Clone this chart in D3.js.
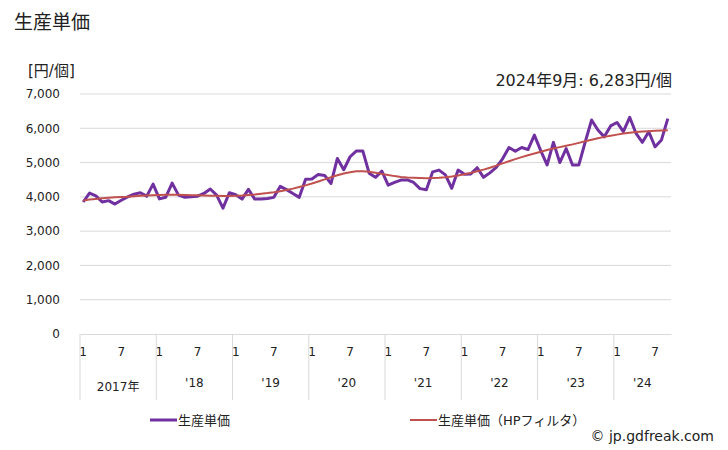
<!DOCTYPE html>
<html>
<head>
<meta charset="utf-8">
<script src="https://cdn.jsdelivr.net/npm/d3@7"></script>
<style>
  body { margin: 0; background: #fff; }
  svg text { font-family: "DejaVu Sans", "Noto Sans CJK JP", sans-serif; fill: #222; }
</style>
</head>
<body>
<div id="chart"></div>
<script>
// years shown on the axis (2017-01 .. 2024-09, monthly)
let years = [2017, 2018, 2019, 2020, 2021, 2022, 2023, 2024];
let yearLabels = ['2017年', "'18", "'19", "'20", "'21", "'22", "'23", "'24"];
let lastMonth = 9;

// 生産単価 (円/個)
let unitPrice = [
    3850, 4110, 4030, 3850, 3890, 3790, 3900, 4000, 4080, 4120, 4020, 4370,
    3940, 3990, 4400, 4050, 3990, 4000, 4020, 4100, 4230, 4050, 3670, 4120,
    4060, 3935, 4220, 3935, 3935, 3955, 3985, 4305, 4210, 4100, 3985, 4510,
    4520, 4655, 4625, 4390, 5120, 4790, 5170, 5340, 5340, 4690, 4570, 4750,
    4340, 4420, 4490, 4495, 4420, 4240, 4210, 4730, 4780, 4640, 4250, 4780,
    4660, 4670, 4850, 4570, 4700, 4860, 5110, 5440, 5330, 5440, 5380, 5800,
    5350, 4930, 5590, 5000, 5410, 4930, 4930, 5600, 6240, 5950, 5750, 6070,
    6170, 5900, 6320, 5850, 5590, 5900, 5460, 5660, 6283
];

// 生産単価 (HPフィルタ)
let hpTrend = [
    3890, 3920, 3940, 3960, 3975, 3985, 3995, 4005, 4020, 4030, 4040, 4050,
    4055, 4060, 4060, 4060, 4055, 4050, 4045, 4040, 4035, 4030, 4025, 4025,
    4030, 4040, 4055, 4070, 4090, 4110, 4135, 4165, 4200, 4240, 4285, 4335,
    4390, 4450, 4510, 4570, 4630, 4680, 4720, 4745, 4750, 4735, 4705, 4670,
    4635, 4605, 4580, 4565, 4555, 4548, 4545, 4550, 4560, 4575, 4595, 4625,
    4660, 4700, 4745, 4795, 4850, 4910, 4975, 5040, 5100, 5160, 5215, 5265,
    5315, 5365, 5410, 5450, 5490, 5530, 5575, 5620, 5665, 5710, 5750, 5785,
    5815, 5845, 5870, 5890, 5905, 5915, 5925, 5935, 5940
];

let yTicks = [0, 1000, 2000, 3000, 4000, 5000, 6000, 7000];

// build month keys
let months = [];
years.forEach(function (yr) {
    let n = (yr === years[years.length - 1]) ? lastMonth : 12;
    for (let m = 1; m <= n; m++) {
        months.push({key: yr + '-' + m, year: yr, month: m});
    }
});

let width = 728, height = 450;
let margin = {top: 94, left: 80, right: 57, bottom: 116};
let plotW = width - margin.left - margin.right;
let plotH = height - margin.top - margin.bottom;

let svg = d3.select('#chart').append('svg')
    .attr('width', width)
    .attr('height', height);

// title
svg.append('text')
    .attr('x', 14).attr('y', 29)
    .style('font-size', '19px')
    .text('生産単価');

svg.append('text')
    .attr('x', 28).attr('y', 76)
    .style('font-size', '15px')
    .text('[円/個]');

svg.append('text')
    .attr('x', 672).attr('y', 86)
    .attr('text-anchor', 'end')
    .style('font-size', '16px')
    .text('2024年9月: 6,283円/個');

let g = svg.append('g')
    .attr('transform', `translate(${margin.left},${margin.top})`);

let x = d3.scaleBand()
    .domain(months.map(function (d) { return d.key; }))
    .range([0, plotW]);

let y = d3.scaleLinear()
    .domain([0, 7000])
    .range([plotH, 0]);

// gridlines
g.selectAll('.grid')
    .data(yTicks.filter(function (d) { return d > 0; }))
    .enter().append('line')
    .attr('x1', 0).attr('x2', plotW)
    .attr('y1', function (d) { return y(d); })
    .attr('y2', function (d) { return y(d); })
    .attr('stroke', '#d9d9d9')
    .attr('stroke-width', 1);

// y axis labels
let yAxis = g.append('g')
    .call(d3.axisLeft(y).tickValues(yTicks).tickSize(0).tickPadding(20)
        .tickFormat(d3.format(',')));
yAxis.select('.domain').remove();
yAxis.selectAll('text')
    .style('font-size', '12px')
    .style('font-family', '"DejaVu Sans", sans-serif')
    .attr('fill', '#222');

// x axis: month labels
let xAxis = g.append('g')
    .attr('transform', `translate(0,${plotH})`)
    .call(d3.axisBottom(x)
        .tickValues(months.filter(function (d) { return d.month === 1 || d.month === 7; })
            .map(function (d) { return d.key; }))
        .tickSize(0).tickPadding(13)
        .tickFormat(function (k) { return k.split('-')[1]; }));
xAxis.select('.domain').attr('stroke', '#d9d9d9');
xAxis.selectAll('text')
    .style('font-size', '12px')
    .style('font-family', '"DejaVu Sans", sans-serif')
    .attr('fill', '#222');

// year dividers and labels
years.forEach(function (yr, i) {
    let first = x(yr + '-1');
    let n = (i === years.length - 1) ? lastMonth : 12;
    let last = x(yr + '-' + n) + x.bandwidth();
    g.append('line')
        .attr('x1', first).attr('x2', first)
        .attr('y1', plotH).attr('y2', plotH + 66)
        .attr('stroke', '#d9d9d9');
    g.append('text')
        .attr('x', (first + last) / 2)
        .attr('y', plotH + (i === 0 ? 57 : 53))
        .attr('text-anchor', 'middle')
        .style('font-size', '12px')
        .text(yearLabels[i]);
});

// lines
let line = function (values) {
    return d3.line()
        .x(function (d, i) { return x(months[i].key) + x.bandwidth() / 2; })
        .y(function (d) { return y(d); })(values);
};

g.append('path')
    .attr('d', line(unitPrice))
    .attr('fill', 'none')
    .attr('stroke', '#7030a0')
    .attr('stroke-width', 3)
    .attr('stroke-linejoin', 'round');

g.append('path')
    .attr('d', line(hpTrend))
    .attr('fill', 'none')
    .attr('stroke', '#c0504d')
    .attr('stroke-width', 2);

// legend
let legend = [
    {label: '生産単価', color: '#7030a0', w: 3, x: 150},
    {label: '生産単価（HPフィルタ）', color: '#c0504d', w: 2, x: 410}
];
legend.forEach(function (d) {
    svg.append('line')
        .attr('x1', d.x).attr('x2', d.x + 27)
        .attr('y1', 420).attr('y2', 420)
        .attr('stroke', d.color)
        .attr('stroke-width', d.w);
    svg.append('text')
        .attr('x', d.x + 28).attr('y', 425)
        .style('font-size', '13px')
        .text(d.label);
});

svg.append('text')
    .attr('x', 714).attr('y', 441)
    .attr('text-anchor', 'end')
    .style('font-size', '14px')
    .text('© jp.gdfreak.com');
</script>
</body>
</html>
